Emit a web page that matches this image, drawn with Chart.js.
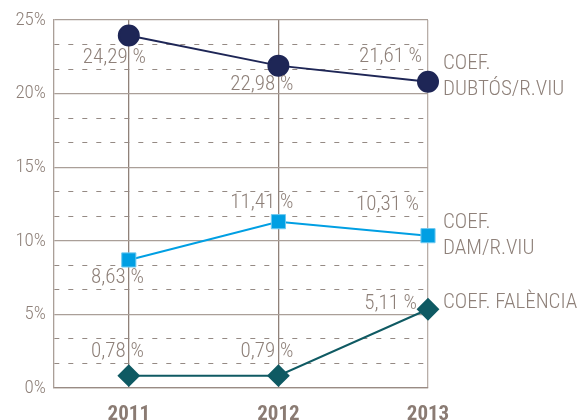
<!DOCTYPE html>
<html><head><meta charset="utf-8">
<script src="https://cdn.jsdelivr.net/npm/chart.js@4.4.0/dist/chart.umd.min.js"></script>
<style>html,body{margin:0;padding:0;background:#fff}#wrap{width:582px;height:420px}</style>
</head><body><div id="wrap"><canvas id="c" width="582" height="420"></canvas></div>
<script>
// ---- data ----
const years = [2011, 2012, 2013];
const dubtosName = ["COEF.", "DUBTÓS/R.VIU"];
const damName = ["COEF.", "DAM/R.VIU"];
const falenciaName = ["COEF. FALÈNCIA"];
const dubtosValues = [23.95, 21.9, 20.8];
const damValues = [8.7, 11.3, 10.35];
const falenciaValues = [0.84, 0.84, 5.35];
const dubtosLabels = ["24,29 %", "22,98 %", "21,61 %"];
const damLabels = ["8,63 %", "11,41 %", "10,31 %"];
const falenciaLabels = ["0,78 %", "0,79 %", "5,11 %"];
const yTickValues = [0, 5, 10, 15, 20, 25];

// ---- style ----
const FONT = "'Roboto Condensed','DejaVu Sans Condensed',sans-serif";
const TXT = '#8e8079';
const NAVY = '#1e2656', BLUE = '#009fe3', TEAL = '#0f5a63';

// minor (dashed) grid positions: thirds between major ticks
const allYTicks = [];
yTickValues.forEach((v, i) => {
  allYTicks.push(v);
  if (i < yTickValues.length - 1) {
    const step = (yTickValues[i + 1] - v) / 3;
    allYTicks.push(v + step, v + 2 * step);
  }
});
const isMajor = v => yTickValues.some(t => Math.abs(t - v) < 1e-6);

const labelOffsets = [
  [[17, 22], [15, 19], [-6, -25]],
  [[15, 18], [15, -19], [-9, -31]],
  [[15, -24], [15, -24], [-11, -5]]
];
const nameOffsets = [-5, 0, -6];

const labelsPlugin = {
  id: 'valueLabels',
  afterDatasetsDraw(chart) {
    const ctx = chart.ctx;
    ctx.save();
    ctx.font = '300 21px ' + FONT;
    ctx.fillStyle = TXT;
    ctx.textBaseline = 'middle';
    chart.data.datasets.forEach((ds, di) => {
      const meta = chart.getDatasetMeta(di);
      meta.data.forEach((pt, i) => {
        const off = labelOffsets[di][i];
        ctx.textAlign = 'right';
        ctx.fillText(ds.valueLabels[i], pt.x + off[0], pt.y + off[1]);
      });
      const last = meta.data[meta.data.length - 1];
      const lines = ds.nameLines;
      const lh = 26;
      const startY = last.y + nameOffsets[di] - (lines.length - 1) * lh / 2;
      ctx.textAlign = 'left';
      lines.forEach((ln, k) => ctx.fillText(ln, chart.chartArea.right + 15, startY + k * lh));
    });
    ctx.restore();
  }
};

new Chart(document.getElementById('c'), {
  type: 'line',
  data: {
    datasets: [
      { data: years.map((y, i) => ({x: y, y: dubtosValues[i]})), valueLabels: dubtosLabels, nameLines: dubtosName,
        borderColor: NAVY, backgroundColor: NAVY, borderWidth: 2, pointStyle: 'circle', pointRadius: 10, pointHoverRadius: 10, clip: false },
      { data: years.map((y, i) => ({x: y, y: damValues[i]})), valueLabels: damLabels, nameLines: damName,
        borderColor: BLUE, backgroundColor: BLUE, borderWidth: 2, pointStyle: 'rect', pointRadius: 10, pointHoverRadius: 10, pointBorderColor: '#6fc9f0', pointBorderWidth: 1, clip: false },
      { data: years.map((y, i) => ({x: y, y: falenciaValues[i]})), valueLabels: falenciaLabels, nameLines: falenciaName,
        borderColor: TEAL, backgroundColor: TEAL, borderWidth: 2, pointStyle: 'rectRot', pointRadius: 10, pointHoverRadius: 10, clip: false }
    ]
  },
  options: {
    responsive: false,
    animation: false,
    devicePixelRatio: 1,
    layout: { padding: { top: 20, right: 154, left: 0, bottom: 0 } },
    plugins: { legend: { display: false }, tooltip: { enabled: false } },
    scales: {
      x: {
        type: 'linear', min: 2010.5, max: 2013,
        afterBuildTicks: s => { s.ticks = years.map(v => ({value: v})); },
        afterFit: s => { s.height = 32; },
        ticks: { callback: v => String(v), font: {family: FONT, size: 21, weight: 'bold'}, color: '#8a7b73', padding: 14, autoSkip: false, maxRotation: 0 },
        grid: { color: c => (c.tick && c.tick.value === 2013) ? '#b8aea8' : '#8f8179', lineWidth: 1.3, drawTicks: false },
        border: { display: true, color: '#998b84', width: 1.3 }
      },
      y: {
        min: 0, max: 25,
        afterBuildTicks: s => { s.ticks = allYTicks.map(v => ({value: v})); },
        afterFit: s => { s.width = 54; },
        ticks: { callback: v => isMajor(v) ? Math.round(v) + '%' : '', font: {family: FONT, size: 19, weight: '300'}, color: TXT, padding: 8, autoSkip: false },
        grid: { color: c => (c.tick && !isMajor(c.tick.value)) ? '#958a84' : '#aa9f98', lineWidth: c => (c.tick && !isMajor(c.tick.value)) ? 1 : 1.3, drawTicks: false },
        border: { display: true, color: '#aa9f98', width: 1.3, dash: c => (c.tick && !isMajor(c.tick.value)) ? [5, 9] : [] }
      }
    }
  },
  plugins: [labelsPlugin]
});
</script>
</body></html>
